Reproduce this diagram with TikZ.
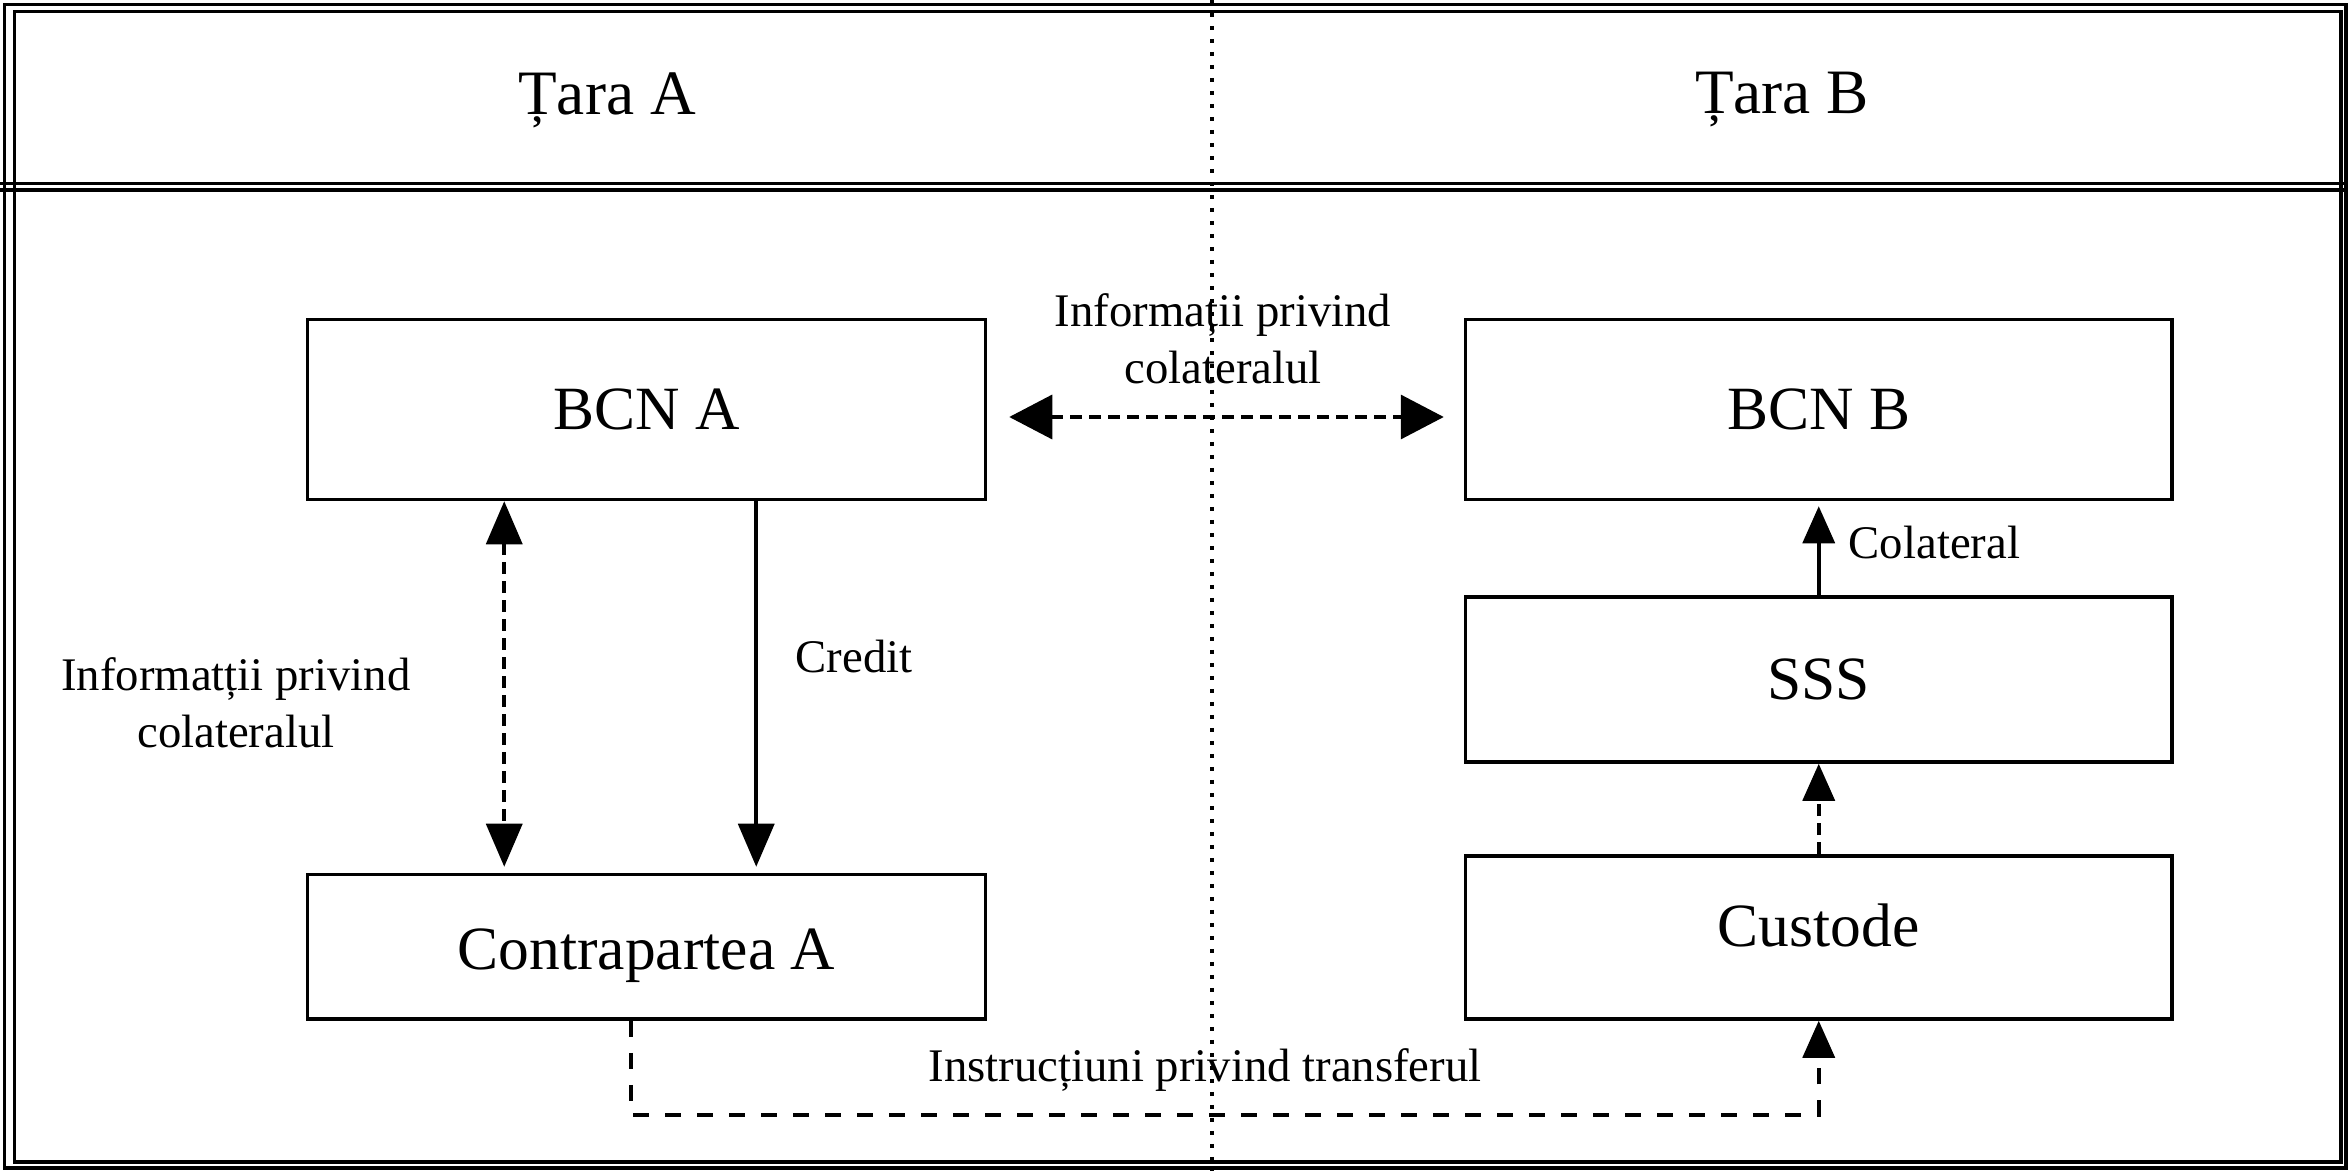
\documentclass[tikz,border=0pt]{standalone}
\usepackage{fontspec}
\setmainfont{Liberation Serif}
\usetikzlibrary{arrows.meta}
\tikzset{
  vtip/.tip={Triangle[length=4.3mm,width=3.6mm]},
  htip/.tip={Triangle[length=4.3mm,width=4.4mm]},
  stip/.tip={Triangle[length=3.7mm,width=3.2mm]}}
\begin{document}
\begin{tikzpicture}[x=0.1mm,y=-0.1mm,
  frameline/.style={line width=1pt},
  box/.style={draw,line width=1pt,inner sep=0pt,font=\fontsize{17.5pt}{21pt}\selectfont},
  lbl/.style={inner sep=0pt,align=center,font=\fontsize{13.3pt}{16.2pt}\selectfont},
  head/.style={inner sep=0pt,font=\fontsize{18pt}{21pt}\selectfont},
  conn/.style={line width=1pt},
  dashline/.style={conn,dash pattern=on 1.2mm off 0.7mm}]
\useasboundingbox (0,0) rectangle (2352,1171);
% frames
\draw[frameline] (4.5,4.5) rectangle (2346,1168);
\draw[frameline] (14.5,11.5) rectangle (2341,1162);
\draw[frameline] (0,183.5) -- (2347,183.5);
\draw[frameline] (0,190) -- (2347,190);
% country divider
\coordinate (divtop) at (1212,0);
\coordinate (divbot) at (1212,1171);
\draw[line width=1.1pt,dash pattern=on 0.4mm off 0.9mm] (divtop) -- (divbot);
% headers
\node[head] (tara) at (607,100) {Țara A};
\node[head] (tarb) at (1782,100) {Țara B};
% boxes
\node[box,minimum width=67.8mm,minimum height=18mm] (bcna) at (646.5,409.5) {BCN A};
\node[box,minimum width=70.65mm,minimum height=18mm] (bcnb) at (1818.75,409.5) {BCN B};
\node[box,minimum width=70.65mm,minimum height=16.5mm] (sss) at (1818.75,679.5) {SSS};
\node[box,minimum width=70.65mm,minimum height=16.3mm,text height=4.5mm,text depth=2.8mm] (cust) at (1818.75,937.5) {Custode};
\node[box,minimum width=67.8mm,minimum height=14.45mm,text height=5.8mm,text depth=1.3mm] (contra) at (646.5,946.75) {Contrapartea A};
% labels
\node[lbl] (infotop) at (1223,339) {Informații privind\\colateralul};
\node[lbl] (infoleft) at (236,703) {Informatții privind\\colateralul};
\node[lbl,anchor=west] (credit) at (795,657) {Credit};
\node[lbl,anchor=west] (colat) at (1848,543) {Colateral};
\node[lbl] (instr) at (1205,1070) {Instrucțiuni privind transferul};
% connectors
\draw[dashline,htip-htip,shorten <=2.2mm,shorten >=2.0mm]
  ([yshift=-0.75mm]bcna.east) -- ([yshift=-0.75mm]bcnb.west);
\draw[dashline,vtip-vtip,shorten >=0.6mm]
  ([xshift=19.85mm]bcna.south west) -- ([xshift=19.85mm]contra.north west);
\draw[conn,-vtip,shorten >=0.6mm]
  ([xshift=45.05mm]bcna.south west) -- ([xshift=45.05mm]contra.north west);
\draw[conn,-stip,shorten >=0.5mm] (sss.north) -- (bcnb.south);
\draw[dashline,-stip] (cust.north) -- (sss.south);
\draw[conn,dash pattern=on 1.6mm off 1.6mm,-stip]
  ([xshift=32.55mm]contra.south west) -- ++(0,94) -| (cust.south);
\end{tikzpicture}
\end{document}
